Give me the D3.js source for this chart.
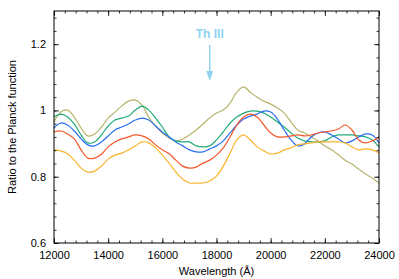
<!DOCTYPE html>
<html>
<head>
<style>
  body { margin: 0; background: #fff; }
  text { font-family: "Liberation Sans", Arial, sans-serif; }
</style>
</head>
<body>
<svg width="399" height="279"></svg>
<script src="https://d3js.org/d3.v7.min.js"></script>
<script>

// wavelength grid (Angstrom), every 250
var wave = d3.range(12000, 24001, 250);

var olive = [0.965,0.995,1.001,0.980,0.947,0.923,0.929,0.950,0.977,0.995,1.013,1.028,1.031,
  1.016,0.980,0.953,0.932,0.917,0.908,0.914,0.926,0.941,0.959,0.977,0.992,1.001,1.022,1.055,
  1.071,1.055,1.040,1.028,1.019,1.007,0.992,0.965,0.941,0.932,0.920,0.908,0.893,0.881,0.866,
  0.850,0.838,0.823,0.808,0.796,0.781];
var green = [0.980,0.989,0.980,0.959,0.926,0.902,0.905,0.926,0.953,0.971,0.977,0.983,1.001,
  1.013,1.001,0.977,0.950,0.920,0.908,0.905,0.905,0.893,0.890,0.893,0.911,0.935,0.962,0.980,
  0.992,0.998,0.998,0.992,0.980,0.965,0.950,0.932,0.917,0.908,0.905,0.905,0.908,0.920,0.926,
  0.926,0.926,0.923,0.920,0.911,0.890];
var blue = [0.947,0.962,0.956,0.938,0.914,0.896,0.893,0.905,0.923,0.941,0.950,0.959,0.971,
  0.977,0.971,0.953,0.935,0.920,0.905,0.893,0.881,0.875,0.875,0.884,0.893,0.908,0.932,0.956,
  0.974,0.983,0.989,0.998,0.995,0.974,0.941,0.911,0.893,0.899,0.920,0.932,0.935,0.926,0.914,
  0.902,0.908,0.920,0.929,0.926,0.902];
var red = [0.935,0.938,0.929,0.914,0.881,0.856,0.856,0.868,0.890,0.905,0.914,0.920,0.926,
  0.923,0.914,0.896,0.881,0.869,0.850,0.832,0.826,0.829,0.841,0.850,0.865,0.887,0.920,0.956,
  0.980,0.989,0.980,0.956,0.932,0.920,0.920,0.923,0.926,0.923,0.926,0.932,0.935,0.938,0.944,
  0.956,0.941,0.911,0.902,0.908,0.920];
var yellow = [0.881,0.878,0.869,0.850,0.826,0.814,0.817,0.832,0.853,0.865,0.871,0.881,0.893,
  0.905,0.902,0.887,0.865,0.841,0.814,0.793,0.781,0.781,0.781,0.787,0.802,0.832,0.871,0.911,
  0.926,0.911,0.890,0.878,0.869,0.871,0.881,0.887,0.896,0.899,0.902,0.905,0.905,0.905,0.905,
  0.902,0.890,0.881,0.884,0.881,0.872];

var series = [
  {name: "olive", values: olive, color: "#b8b46c"},
  {name: "green", values: green, color: "#1fab78"},
  {name: "blue", values: blue, color: "#2a6ff0"},
  {name: "red", values: red, color: "#f5562a"},
  {name: "yellow", values: yellow, color: "#f8b42a"}
];

var xTicks = [12000, 14000, 16000, 18000, 20000, 22000, 24000];
var yTicks = [0.6, 0.8, 1, 1.2];

var svg = d3.select("svg"),
  margin = {top: 11, right: 20, bottom: 36, left: 54},
  width = 399 - margin.left - margin.right,
  height = 279 - margin.top - margin.bottom,
  g = svg.append("g").attr("transform", "translate(" + margin.left + "," + margin.top + ")");

var x = d3.scaleLinear().domain([12000, 24000]).range([0, width]);
var y = d3.scaleLinear().domain([0.6, 1.3]).range([height, 0]);

var line = d3.line()
  .x(function(d, i) { return x(wave[i]); })
  .y(function(d) { return y(d); })
  .curve(d3.curveCatmullRom);

// curves
g.append("g").selectAll("path")
  .data(series)
  .enter().append("path")
  .attr("fill", "none")
  .attr("stroke", function(d) { return d.color; })
  .attr("stroke-width", 1.2)
  .attr("d", function(d) { return line(d.values); });

// axes, gnuplot style: ticks inward on all four sides
function styleAxis(sel) {
  sel.select(".domain").remove();
  sel.selectAll("line").attr("stroke", "#000").attr("stroke-width", 0.8);
  sel.selectAll("text").attr("font-size", 11).attr("fill", "#000")
    .attr("font-family", "Liberation Sans, Arial, sans-serif");
}

var xMinor = d3.range(12000, 24001, 400);
var yMinor = d3.range(0.6, 1.301, 0.04);

g.append("g").attr("transform", "translate(0," + height + ")")
  .call(d3.axisBottom(x).tickValues(xTicks).tickSize(-5).tickPadding(8).tickFormat(d3.format("d")))
  .call(styleAxis);
g.append("g").attr("transform", "translate(0," + height + ")")
  .call(d3.axisBottom(x).tickValues(xMinor).tickSize(-2.5).tickFormat(""))
  .call(styleAxis);
g.append("g")
  .call(d3.axisTop(x).tickValues(xTicks).tickSize(-5).tickFormat(""))
  .call(styleAxis);
g.append("g")
  .call(d3.axisTop(x).tickValues(xMinor).tickSize(-2.5).tickFormat(""))
  .call(styleAxis);

g.append("g")
  .call(d3.axisLeft(y).tickValues(yTicks).tickSize(-5).tickPadding(8).tickFormat(d3.format("")))
  .call(styleAxis);
g.append("g")
  .call(d3.axisLeft(y).tickValues(yMinor).tickSize(-2.5).tickFormat(""))
  .call(styleAxis);
g.append("g").attr("transform", "translate(" + width + ",0)")
  .call(d3.axisRight(y).tickValues(yTicks).tickSize(-5).tickFormat(""))
  .call(styleAxis);
g.append("g").attr("transform", "translate(" + width + ",0)")
  .call(d3.axisRight(y).tickValues(yMinor).tickSize(-2.5).tickFormat(""))
  .call(styleAxis);

// frame
g.append("rect")
  .attr("width", width)
  .attr("height", height)
  .attr("fill", "none")
  .attr("stroke", "#000")
  .attr("stroke-width", 1);

// axis titles
svg.append("text")
  .attr("x", margin.left + width / 2)
  .attr("y", 275)
  .attr("text-anchor", "middle")
  .attr("font-size", 11)
  .text("Wavelength (Å)");

svg.append("text")
  .attr("transform", "translate(16," + (margin.top + height / 2) + ") rotate(-90)")
  .attr("text-anchor", "middle")
  .attr("font-size", 11)
  .text("Ratio to the Planck function");

// Th III marker
var mark = 17750;
g.append("text")
  .attr("x", x(mark))
  .attr("y", 27)
  .attr("text-anchor", "middle")
  .attr("font-size", 12)
  .attr("font-weight", "bold")
  .attr("fill", "#8fd3f0")
  .text("Th III");

g.append("line")
  .attr("x1", x(mark)).attr("x2", x(mark))
  .attr("y1", 34).attr("y2", 62)
  .attr("stroke", "#8fd3f0")
  .attr("stroke-width", 1.5);

g.append("path")
  .attr("d", "M" + (x(mark) - 3.5) + ",60 L" + (x(mark) + 3.5) + ",60 L" + x(mark) + ",70 Z")
  .attr("fill", "#8fd3f0");

</script>
</body>
</html>
